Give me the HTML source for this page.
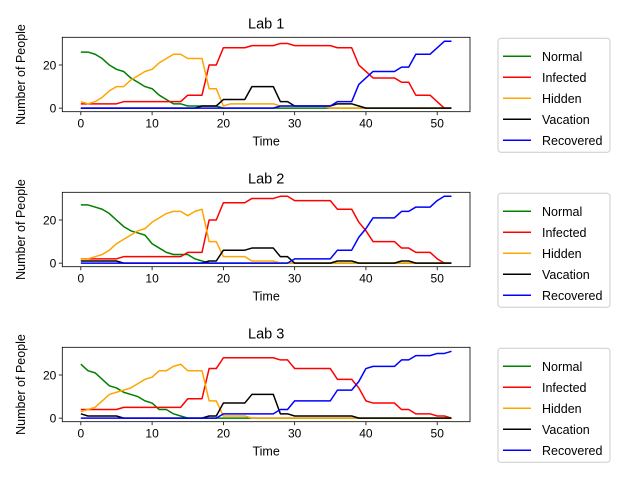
<!DOCTYPE html>
<html><head><meta charset="utf-8"><style>
html,body{margin:0;padding:0;background:#fff;}
svg{display:block;font-family:"Liberation Sans","DejaVu Sans",sans-serif;}
</style></head><body>
<svg id="chart" width="640" height="480" viewBox="0 0 640 480" xmlns="http://www.w3.org/2000/svg"></svg>
<script>
const seriesNames = ["Normal","Infected","Hidden","Vacation","Recovered"];
const seriesColors = ["green","red","orange","black","blue"];
const labTitles = ["Lab 1","Lab 2","Lab 3"];
const xTicks = [0,10,20,30,40,50];
const yTicks = [0,20];
const lab1Normal = [26,26,25,23,20,18,17,14,12,10,9,6,4,2,2,1,1,1,1,1,0,0,0,0,0,0,0,0,0,0,0,0,0,0,0,0,0,0,0,0,0,0,0,0,0,0,0,0,0,0,0,0,0];
const lab1Infected = [2,2,2,2,2,2,3,3,3,3,3,3,3,3,3,6,6,6,20,20,28,28,28,28,29,29,29,29,30,30,29,29,29,29,29,29,28,28,28,20,17,14,14,14,14,12,12,6,6,6,3,0,0];
const lab1Hidden = [3,2,3,5,8,10,10,13,15,17,18,21,23,25,25,23,23,23,9,9,1,2,2,2,2,2,2,2,1,1,1,1,1,1,1,0,0,0,0,0,0,0,0,0,0,0,0,0,0,0,0,0,0];
const lab1Vacation = [0,0,0,0,0,0,0,0,0,0,0,0,0,0,0,0,0,1,1,1,4,4,4,4,10,10,10,10,3,3,1,1,1,1,1,1,2,2,2,1,0,0,0,0,0,0,0,0,0,0,0,0,0];
const lab1Recovered = [0,0,0,0,0,0,0,0,0,0,0,0,0,0,0,0,0,0,0,0,0,0,0,0,0,0,0,0,1,1,1,1,1,1,1,1,3,3,3,11,14,17,17,17,17,19,19,25,25,25,28,31,31];
const lab2Normal = [27,27,26,25,23,20,17,15,14,13,9,7,5,4,4,4,2,1,0,0,0,0,0,0,0,0,0,0,0,0,0,0,0,0,0,0,0,0,0,0,0,0,0,0,0,0,0,0,0,0,0,0,0];
const lab2Infected = [2,2,2,2,2,2,3,3,3,3,3,3,3,3,3,5,5,5,20,20,28,28,28,28,30,30,30,30,31,31,29,29,29,29,29,29,25,25,25,19,15,10,10,10,10,7,7,5,5,5,2,0,0];
const lab2Hidden = [2,2,3,4,6,9,11,13,15,16,19,21,23,24,24,22,24,25,10,10,3,3,3,3,1,1,1,1,0,0,0,0,0,0,0,0,0,0,0,0,0,0,0,0,0,0,0,0,0,0,0,0,0];
const lab2Vacation = [1,1,1,1,1,1,0,0,0,0,0,0,0,0,0,0,0,0,1,1,6,6,6,6,7,7,7,7,3,3,0,0,0,0,0,0,1,1,1,0,0,0,0,0,0,1,1,0,0,0,0,0,0];
const lab2Recovered = [0,0,0,0,0,0,0,0,0,0,0,0,0,0,0,0,0,0,0,0,0,0,0,0,0,0,0,0,0,0,2,2,2,2,2,2,6,6,6,12,16,21,21,21,21,24,24,26,26,26,29,31,31];
const lab3Normal = [25,22,21,18,15,14,12,11,10,8,7,4,4,2,1,0,0,0,0,0,0,0,0,0,0,0,0,0,0,0,0,0,0,0,0,0,0,0,0,0,0,0,0,0,0,0,0,0,0,0,0,0,0];
const lab3Infected = [4,4,4,4,4,4,5,5,5,5,5,5,5,5,5,9,9,9,23,23,28,28,28,28,28,28,28,28,27,27,23,23,23,23,23,23,18,18,18,14,8,7,7,7,7,4,4,2,2,2,1,1,0];
const lab3Hidden = [3,4,5,8,11,12,13,14,16,18,19,22,22,24,25,22,22,22,8,8,1,1,1,1,0,0,0,0,0,0,0,0,0,0,0,0,0,0,0,0,0,0,0,0,0,0,0,0,0,0,0,0,0];
const lab3Vacation = [2,1,1,1,1,1,0,0,0,0,0,0,0,0,0,0,0,0,1,1,7,7,7,7,11,11,11,11,2,2,1,1,1,1,1,1,1,1,1,0,0,0,0,0,0,0,0,0,0,0,0,0,0];
const lab3Recovered = [0,0,0,0,0,0,0,0,0,0,0,0,0,0,0,0,0,0,0,0,2,2,2,2,2,2,2,2,4,4,8,8,8,8,8,8,13,13,13,17,23,24,24,24,24,27,27,29,29,29,30,30,31];
const labs = [
  [lab1Normal,lab1Infected,lab1Hidden,lab1Vacation,lab1Recovered],
  [lab2Normal,lab2Infected,lab2Hidden,lab2Vacation,lab2Recovered],
  [lab3Normal,lab3Infected,lab3Hidden,lab3Vacation,lab3Recovered]
];

const NS="http://www.w3.org/2000/svg";
const svg=document.getElementById('chart');
function mk(tag,attrs,parent){const e=document.createElementNS(NS,tag);for(const k in attrs)e.setAttribute(k,attrs[k]);(parent||svg).appendChild(e);return e;}
const L=62.3,R=470,xMin=-2.6,xMax=54.6,yMin=-1.65,yMax=32.85;
const tops=[37.3,192.3,347.3],H=74.4;
labs.forEach((lab,li)=>{
  const T=tops[li],B=T+H;
  const g=mk('g',{});
  
  
  const sx=v=>L+(v-xMin)/(xMax-xMin)*(R-L);
  const sy=v=>B-(v-yMin)/(yMax-yMin)*H;
  const t=mk('text',{x:(L+R)/2,y:T-9,'text-anchor':'middle','font-size':'14.5',fill:'#000'},g);
  t.textContent=labTitles[li];
  
  
  lab.forEach((vals,si)=>{
    const pts=vals.map((v,i)=>sx(i).toFixed(2)+','+sy(v).toFixed(2)).join(' ');
    const pl=mk('polyline',{points:pts,fill:'none',stroke:seriesColors[si],'stroke-width':'1.5','stroke-linejoin':'round'},g);
    
    
  });
  const fr=mk('rect',{x:L,y:T,width:R-L,height:H,fill:'none',stroke:'#000','stroke-width':'0.8'},g);
  
  
  xTicks.forEach(v=>{
    mk('line',{x1:sx(v),x2:sx(v),y1:B,y2:B+3.5,stroke:'#000','stroke-width':'0.8'},g);
    const tx=mk('text',{x:sx(v),y:B+16,'text-anchor':'middle','font-size':'12',fill:'#000'},g);
    tx.textContent=v;
    
    
  });
  yTicks.forEach(v=>{
    mk('line',{x1:L-3.5,x2:L,y1:sy(v),y2:sy(v),stroke:'#000','stroke-width':'0.8'},g);
    const ty=mk('text',{x:L-6,y:sy(v)+4.3,'text-anchor':'end','font-size':'12',fill:'#000'},g);
    ty.textContent=v;
    
    
  });
  const xl=mk('text',{x:(L+R)/2,y:B+34,'text-anchor':'middle','font-size':'12.5',fill:'#000'},g);
  xl.textContent='Time';
  
  
  const yc=(T+B)/2;
  const yl=mk('text',{x:25,y:yc,'text-anchor':'middle','font-size':'12.5',fill:'#000',transform:'rotate(-90 25 '+yc+')'},g);
  yl.textContent='Number of People';
  
  
  const lg=mk('g',{},g);
  
  
  mk('rect',{x:498,y:T+1,width:112,height:114,rx:3,fill:'#fff',stroke:'#ccc','stroke-width':'1'},lg);
  seriesNames.forEach((n,si)=>{
    const ey=T+19+si*21;
    const e=mk('g',{},lg);
    
    
    mk('line',{x1:503,x2:531,y1:ey,y2:ey,stroke:seriesColors[si],'stroke-width':'1.5'},e);
    const tt=mk('text',{x:542,y:ey+4.5,'font-size':'12.5',fill:'#000'},e);
    tt.textContent=n;
  });
});
</script>
</body></html>
